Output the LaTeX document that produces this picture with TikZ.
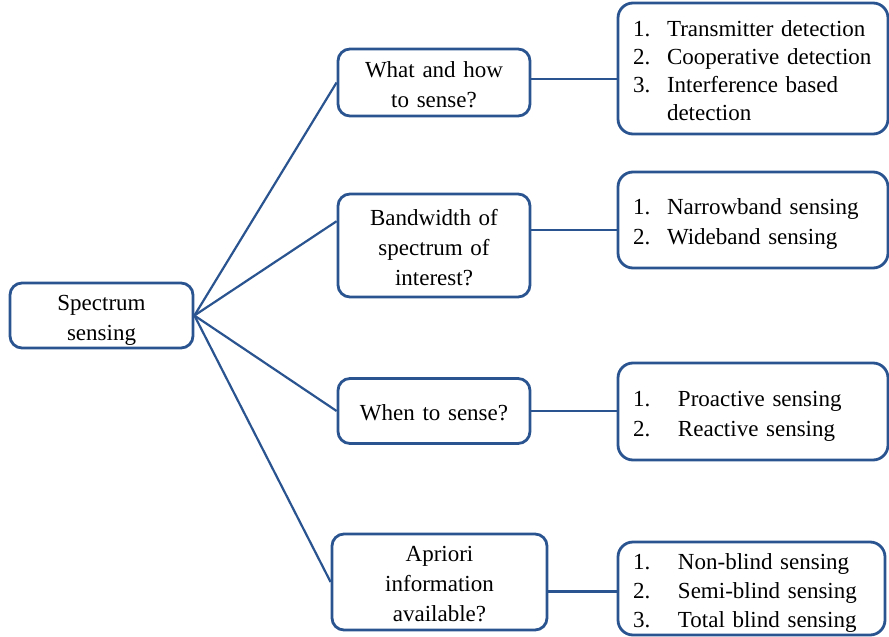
\documentclass[tikz,border=0pt]{standalone}
\usepackage{fontspec}
\setmainfont{Liberation Serif}
\definecolor{ssBlue}{HTML}{2A5490}
\newcommand{\nitem}[3][34pt]{\makebox[#1][l]{#2}#3}

\begin{document}
\begin{tikzpicture}[x=1pt,y=-1pt,
    box/.style={draw=ssBlue,line width=2.8pt,rounded corners=12pt,align=center,
      text width=170pt,inner sep=2pt,font=\fontsize{23}{30}\selectfont,
      execute at begin node={\rule{0pt}{25pt}},
      execute at end node={\rule[-6pt]{0pt}{6pt}}},
    listbox/.style={box,rounded corners=15pt,align=left,inner xsep=15pt},
    link/.style={draw=ssBlue,line width=2.2pt}]
    \useasboundingbox (0,0) rectangle (889,637);

    % root and questions
    \node[box,minimum width=183pt,minimum height=65pt] (spec) at (101.5,315.5) {Spectrum\\sensing};
    \node[box,minimum width=192pt,minimum height=67pt] (what) at (434,82.5) {What and how\\to sense?};
    \node[box,minimum width=192pt,minimum height=103pt] (bw) at (434,245.5) {Bandwidth of\\spectrum of\\interest?};
    \node[box,minimum width=192pt,minimum height=65pt] (when) at (434,411) {When to sense?};
    \node[box,minimum width=215pt,minimum height=96pt] (apr) at (439.5,582) {Apriori\\information\\available?};

    % answers
    \node[listbox,text width=240pt,minimum height=131pt,font=\fontsize{23}{28}\selectfont] (l1) at (753,68.5)
      {\nitem{1.}{Transmitter detection}\\\nitem{2.}{Cooperative detection}\\\nitem{3.}{Interference based}\\\nitem{}{detection}};
    \node[listbox,text width=240pt,minimum height=96pt] (l2) at (753,220)
      {\nitem{1.}{Narrowband sensing}\\\nitem{2.}{Wideband sensing}};
    \node[listbox,text width=240pt,minimum height=97pt] (l3) at (753,411.5)
      {\nitem[45pt]{1.}{Proactive sensing}\\\nitem[45pt]{2.}{Reactive sensing}};
    \node[listbox,text width=237pt,minimum height=93pt,font=\fontsize{23}{29}\selectfont] (l4) at (751.5,588.5)
      {\nitem[45pt]{1.}{Non-blind sensing}\\\nitem[45pt]{2.}{Semi-blind sensing}\\\nitem[45pt]{3.}{Total blind sensing}};

    % connectors
    \draw[link] (spec.east) -- (what.west);
    \draw[link] (spec.east) -- (bw.166);
    \draw[link] (spec.east) -- (when.west);
    \draw[link] (spec.east) -- (apr.west);
    \draw[link] (what.2) -- (what.2 -| l1.west);
    \draw[link] (bw.9) -- (bw.9 -| l2.west);
    \draw[link] (when.east) -- (when.east -| l3.west);
    \draw[link] (apr.-5) -- (apr.-5 -| l4.west);
\end{tikzpicture}
\end{document}
